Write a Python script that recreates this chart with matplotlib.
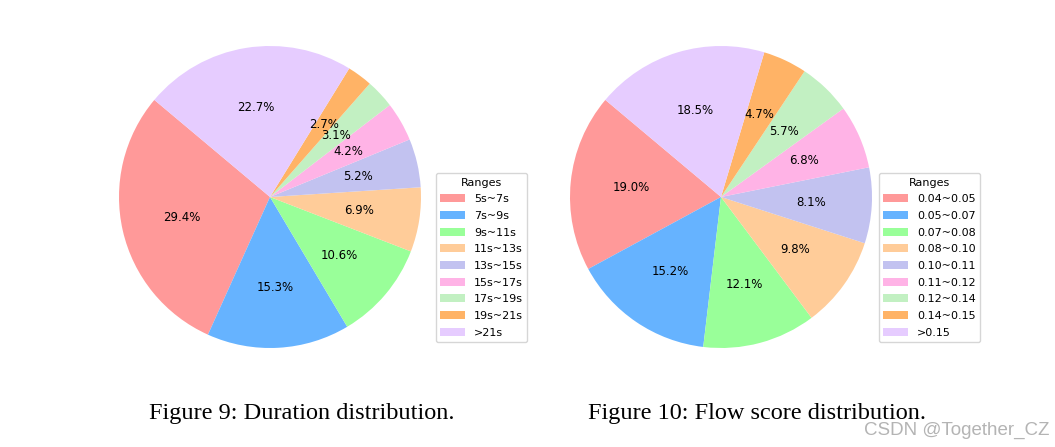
import matplotlib
matplotlib.use("Agg")
import matplotlib.pyplot as plt

# data
duration_labels = ['5s~7s', '7s~9s', '9s~11s', '11s~13s', '13s~15s',
                   '15s~17s', '17s~19s', '19s~21s', '>21s']
duration_pct = [29.4, 15.3, 10.6, 6.9, 5.2, 4.2, 3.1, 2.7, 22.7]

flow_labels = ['0.04~0.05', '0.05~0.07', '0.07~0.08', '0.08~0.10', '0.10~0.11',
               '0.11~0.12', '0.12~0.14', '0.14~0.15', '>0.15']
flow_pct = [19.0, 15.2, 12.1, 9.8, 8.1, 6.8, 5.7, 4.7, 18.5]

colors = ['#ff9999', '#66b3ff', '#99ff99', '#ffcc99', '#c2c2f0',
          '#ffb3e6', '#c2f0c2', '#ffb366', '#e6ccff']

W, H = 1055, 447
fig = plt.figure(figsize=(W / 100, H / 100), dpi=100)


def pie_panel(cx, cy, r, values, labels, legend_x, caption, caption_x):
    ax = fig.add_axes([(cx - r) / W, 1 - (cy + r) / H, 2 * r / W, 2 * r / H])
    ax.pie(values, colors=colors, startangle=140, counterclock=True,
           autopct='%1.1f%%', pctdistance=0.6,
           textprops={'fontsize': 8.5})
    ax.set_xlim(-1, 1)
    ax.set_ylim(-1, 1)
    ax.set_aspect('equal')
    ax.legend(labels, title='Ranges', loc='center left',
              bbox_to_anchor=(legend_x / W, 1 - 257.5 / H),
              bbox_transform=fig.transFigure, borderaxespad=0,
              fontsize=8, title_fontsize=8, labelspacing=0.6,
              handlelength=2.2)
    fig.text(caption_x / W, 1 - 414 / H, caption, ha='center', va='center',
             family='Liberation Serif', fontsize=17.5)
    return ax


pie_panel(270, 197, 151, duration_pct, duration_labels, 436,
          'Figure 9: Duration distribution.', 302)
pie_panel(721, 197, 151, flow_pct, flow_labels, 879,
          'Figure 10: Flow score distribution.', 757)

fig.text(1050 / W, 1 - 430 / H, 'CSDN @Together_CZ', ha='right', va='center',
         color='#b4b4b4', family='Liberation Sans', fontsize=13.5)

fig.savefig('out.png', dpi=100)
